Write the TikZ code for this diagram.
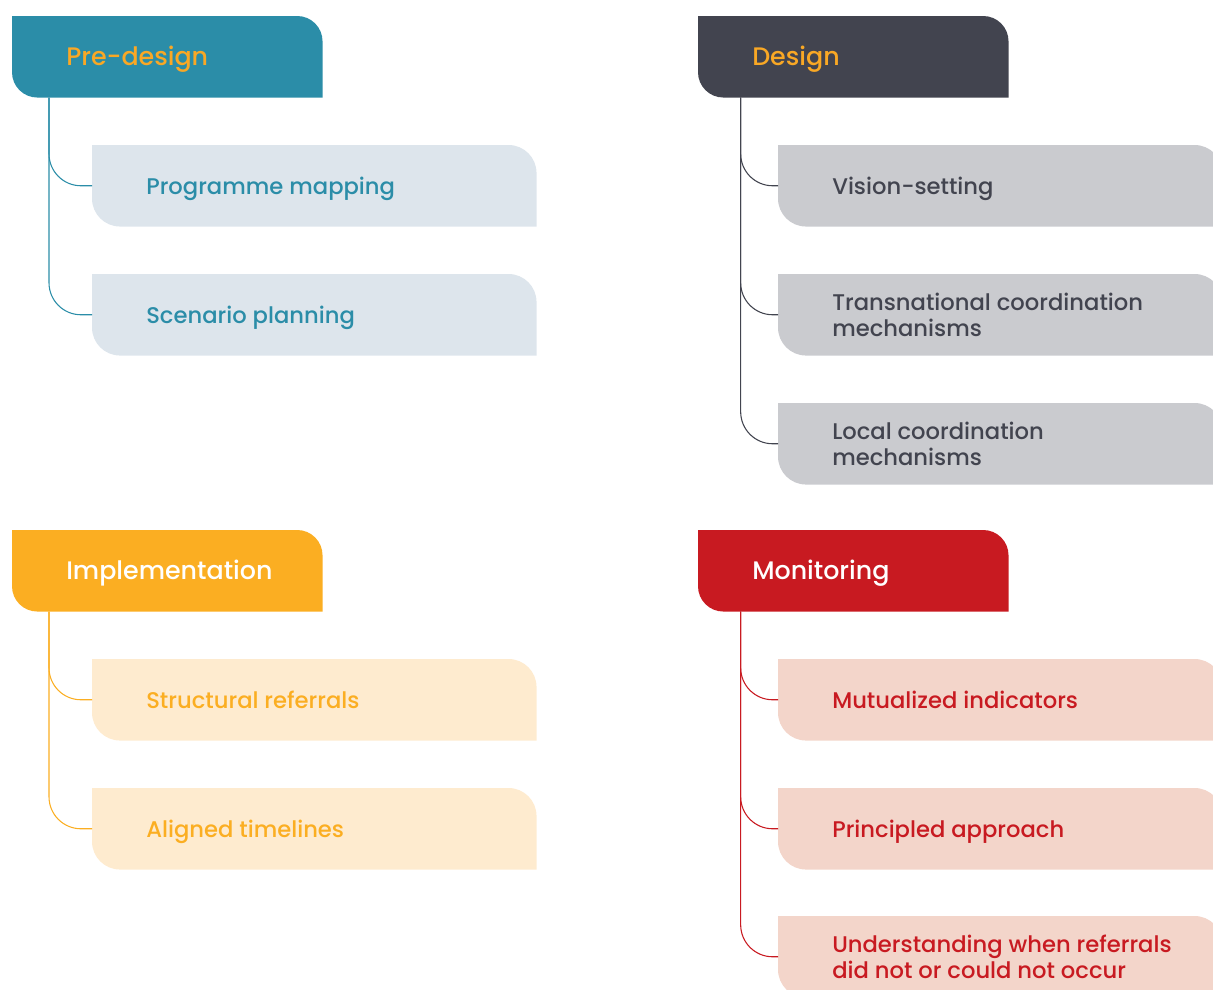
\documentclass[tikz,border=0pt]{standalone}
\usepackage{fontspec}
\setmainfont{Poppins}[BoldFont={Poppins Medium}]
\usetikzlibrary{positioning}

\definecolor{tealhead}{HTML}{2B8DA8}
\definecolor{teallight}{HTML}{DDE5EC}
\definecolor{darkhead}{HTML}{42444F}
\definecolor{darklight}{HTML}{CACBCF}
\definecolor{orangehead}{HTML}{FBAE22}
\definecolor{orangelight}{HTML}{FEEBCF}
\definecolor{redhead}{HTML}{C81A21}
\definecolor{redlight}{HTML}{F3D5CA}
\definecolor{titleorange}{HTML}{F9A825}

% tab shape: rounded top right and bottom left corners
\newcommand{\tabfill}[3]{%
  \fill[#2] (#1.north west) -- ([xshift=-#3]#1.north east) arc (90:0:#3)
    -- (#1.south east) -- ([xshift=#3]#1.south west) arc (270:180:#3) -- cycle;}

\tikzset{
  headbox/.style={anchor=north west, minimum width=232.5pt, minimum height=60.75pt, inner sep=0pt},
  itembox/.style={anchor=north west, minimum width=333pt, minimum height=60.75pt, inner sep=0pt},
  label/.style={anchor=west, inner sep=0pt, align=left, font=\bfseries\fontsize{17}{19.5}\selectfont},
  label1/.style={label, anchor=base west},
  headlabel/.style={label1, font=\bfseries\fontsize{19}{22}\selectfont},
  branch/.style={line width=0.8pt, rounded corners=24pt}
}

\begin{document}
\begin{tikzpicture}[x=0.75pt, y=-0.75pt]
  \useasboundingbox (0,0) rectangle (1213,989);

  % Pre-design
  \node[headbox] (pre) at (12,16) {};
  \tabfill{pre}{tealhead}{19pt}
  \node[headlabel, titleorange] (pre-t) at ([xshift=40.5pt, yshift=-6.4pt]pre.west) {Pre-design};
  \node[itembox] (pm) at (92,145) {};
  \tabfill{pm}{teallight}{21pt}
  \node[label1, tealhead] (pm-t) at ([xshift=40.5pt, yshift=-6.4pt]pm.west) {Programme mapping};
  \node[itembox] (sp) at (92,274) {};
  \tabfill{sp}{teallight}{21pt}
  \node[label1, tealhead] (sp-t) at ([xshift=40.5pt, yshift=-6.4pt]sp.west) {Scenario planning};
  \coordinate (pre-root) at ([xshift=27.75pt]pre.south west);
  \draw[branch, tealhead] (pre-root) |- (pm.west);
  \draw[branch, tealhead] (pre-root) |- (sp.west);

  % Design
  \node[headbox] (des) at (698,16) {};
  \tabfill{des}{darkhead}{19pt}
  \node[headlabel, titleorange] (des-t) at ([xshift=40.5pt, yshift=-6.4pt]des.west) {Design};
  \node[itembox] (vs) at (778,145) {};
  \tabfill{vs}{darklight}{21pt}
  \node[label1, darkhead] (vs-t) at ([xshift=40.5pt, yshift=-6.4pt]vs.west) {Vision-setting};
  \node[itembox] (tc) at (778,274) {};
  \tabfill{tc}{darklight}{21pt}
  \node[label, darkhead, right=40.5pt of tc.west] (tc-t) {Transnational coordination\\mechanisms};
  \node[itembox] (lc) at (778,403) {};
  \tabfill{lc}{darklight}{21pt}
  \node[label, darkhead, right=40.5pt of lc.west] (lc-t) {Local coordination\\mechanisms};
  \coordinate (des-root) at ([xshift=32pt]des.south west);
  \draw[branch, darkhead] (des-root) |- (vs.west);
  \draw[branch, darkhead] (des-root) |- (tc.west);
  \draw[branch, darkhead] (des-root) |- (lc.west);

  % Implementation
  \node[headbox] (imp) at (12,530) {};
  \tabfill{imp}{orangehead}{19pt}
  \node[headlabel, white] (imp-t) at ([xshift=40.5pt, yshift=-6.4pt]imp.west) {Implementation};
  \node[itembox] (sr) at (92,659) {};
  \tabfill{sr}{orangelight}{21pt}
  \node[label1, orangehead] (sr-t) at ([xshift=40.5pt, yshift=-6.4pt]sr.west) {Structural referrals};
  \node[itembox] (at) at (92,788) {};
  \tabfill{at}{orangelight}{21pt}
  \node[label1, orangehead] (at-t) at ([xshift=40.5pt, yshift=-6.4pt]at.west) {Aligned timelines};
  \coordinate (imp-root) at ([xshift=27.75pt]imp.south west);
  \draw[branch, orangehead] (imp-root) |- (sr.west);
  \draw[branch, orangehead] (imp-root) |- (at.west);

  % Monitoring
  \node[headbox] (mon) at (698,530) {};
  \tabfill{mon}{redhead}{19pt}
  \node[headlabel, white] (mon-t) at ([xshift=40.5pt, yshift=-6.4pt]mon.west) {Monitoring};
  \node[itembox] (mi) at (778,659) {};
  \tabfill{mi}{redlight}{21pt}
  \node[label1, redhead] (mi-t) at ([xshift=40.5pt, yshift=-6.4pt]mi.west) {Mutualized indicators};
  \node[itembox] (pa) at (778,788) {};
  \tabfill{pa}{redlight}{21pt}
  \node[label1, redhead] (pa-t) at ([xshift=40.5pt, yshift=-6.4pt]pa.west) {Principled approach};
  \node[itembox] (uw) at (778,916) {};
  \tabfill{uw}{redlight}{21pt}
  \node[label, redhead, right=40.5pt of uw.west] (uw-t) {Understanding when referrals\\did not or could not occur};
  \coordinate (mon-root) at ([xshift=32pt]mon.south west);
  \draw[branch, redhead] (mon-root) |- (mi.west);
  \draw[branch, redhead] (mon-root) |- (pa.west);
  \draw[branch, redhead] (mon-root) |- (uw.west);
\end{tikzpicture}
\end{document}
